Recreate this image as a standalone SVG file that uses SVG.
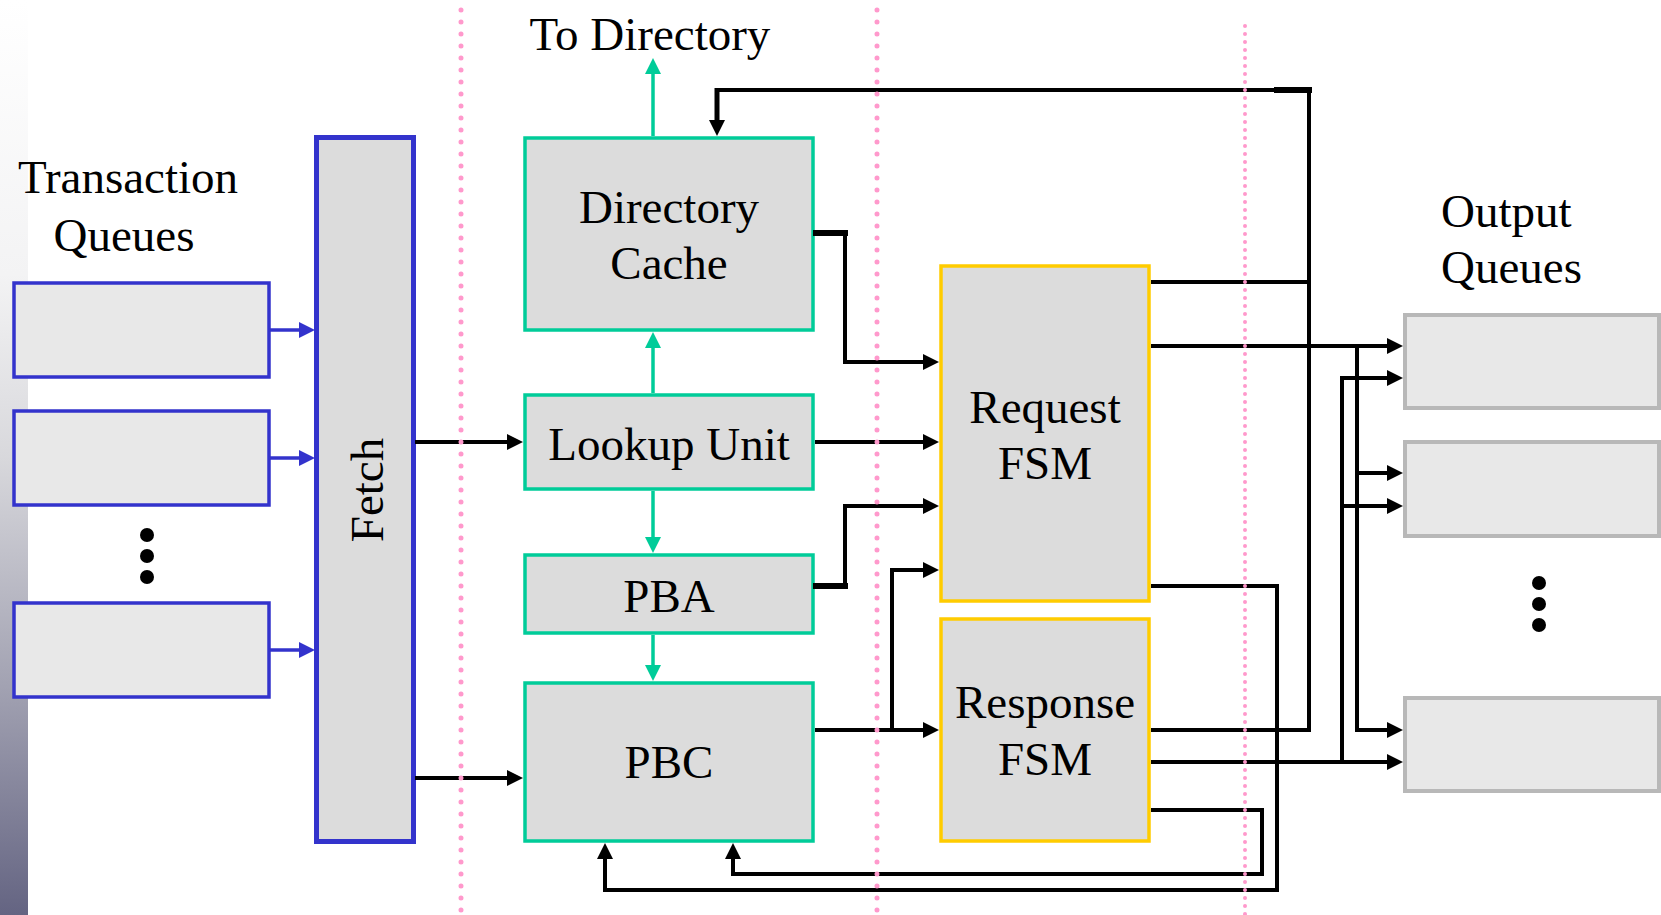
<svg xmlns="http://www.w3.org/2000/svg" width="1661" height="915" viewBox="0 0 1661 915">
  <defs>
    <linearGradient id="barGrad" x1="0" y1="0" x2="0" y2="1">
      <stop offset="0" stop-color="#ffffff"/>
      <stop offset="0.3" stop-color="#f3f3f4"/>
      <stop offset="0.5" stop-color="#d8d8dc"/>
      <stop offset="0.75" stop-color="#a2a2b2"/>
      <stop offset="1" stop-color="#646482"/>
    </linearGradient>
    <marker id="arrK" markerUnits="userSpaceOnUse" markerWidth="17" markerHeight="17" refX="11" refY="8" orient="auto">
      <path d="M0,0 L16,8 L0,16 z" fill="#000"/>
    </marker>
    <marker id="arrB" markerUnits="userSpaceOnUse" markerWidth="17" markerHeight="17" refX="11" refY="8" orient="auto">
      <path d="M0,0 L16,8 L0,16 z" fill="#3333cc"/>
    </marker>
    <marker id="arrG" markerUnits="userSpaceOnUse" markerWidth="17" markerHeight="17" refX="11" refY="8" orient="auto">
      <path d="M0,0 L16,8 L0,16 z" fill="#00cc99"/>
    </marker>
  </defs>
  <style>
    text { font-family: "Liberation Serif", "Times New Roman", serif; font-size: 47px; fill: #000; }
    .mid { text-anchor: middle; }
    .qbox { fill: #e8e8e8; stroke: #3333cc; stroke-width: 3.5; }
    .fetch { fill: #dcdcdc; stroke: #3333cc; stroke-width: 5; }
    .gbox { fill: #dcdcdc; stroke: #00cc99; stroke-width: 3.5; }
    .ybox { fill: #dcdcdc; stroke: #ffcc00; stroke-width: 3.5; }
    .obox { fill: #e8e8e8; stroke: #b8b8b8; stroke-width: 4; }
    .k { fill: none; stroke: #000; stroke-width: 4; }
    .kt { fill: none; stroke: #000; stroke-width: 6; }
    .b { fill: none; stroke: #3333cc; stroke-width: 3.5; }
    .g { fill: none; stroke: #00cc99; stroke-width: 3.5; }
    .pink1 { fill: none; stroke: #ff99cc; stroke-width: 5; stroke-dasharray: 0 12; stroke-linecap: round; }
    .pink2 { fill: none; stroke: #ff99cc; stroke-width: 4; stroke-dasharray: 0 8; stroke-linecap: round; }
  </style>

  <rect x="0" y="0" width="1661" height="915" fill="#ffffff"/>
  <rect x="0" y="0" width="28" height="915" fill="url(#barGrad)"/>

  <g id="label-transaction-queues">
    <text class="mid" x="128" y="193">Transaction</text>
    <text class="mid" x="124" y="251">Queues</text>
  </g>
  <g id="label-to-directory">
    <text class="mid" x="650" y="50">To Directory</text>
  </g>
  <g id="label-output-queues">
    <text x="1441" y="227">Output</text>
    <text x="1441" y="283">Queues</text>
  </g>

  <g id="tq1"><rect class="qbox" x="14" y="283" width="255" height="94"/></g>
  <g id="tq2"><rect class="qbox" x="14" y="411" width="255" height="94"/></g>
  <g id="tq-dots">
    <circle cx="147" cy="535" r="7" fill="#000"/>
    <circle cx="147" cy="556" r="7" fill="#000"/>
    <circle cx="147" cy="577" r="7" fill="#000"/>
  </g>
  <g id="tq3"><rect class="qbox" x="14" y="603" width="255" height="94"/></g>

  <g id="fetch">
    <rect class="fetch" x="316.5" y="137.5" width="97" height="704"/>
    <text class="mid" transform="translate(383,490) rotate(-90)">Fetch</text>
  </g>

  <g id="directory-cache">
    <rect class="gbox" x="525" y="138" width="288" height="192"/>
    <text class="mid" x="669" y="223">Directory</text>
    <text class="mid" x="669" y="279">Cache</text>
  </g>
  <g id="lookup-unit">
    <rect class="gbox" x="525" y="395" width="288" height="94"/>
    <text class="mid" x="669" y="460">Lookup Unit</text>
  </g>
  <g id="pba">
    <rect class="gbox" x="525" y="555" width="288" height="78"/>
    <text class="mid" x="669" y="612">PBA</text>
  </g>
  <g id="pbc">
    <rect class="gbox" x="525" y="683" width="288" height="158"/>
    <text class="mid" x="669" y="778">PBC</text>
  </g>

  <g id="request-fsm">
    <rect class="ybox" x="941" y="266" width="208" height="335"/>
    <text class="mid" x="1045" y="423">Request</text>
    <text class="mid" x="1045" y="479">FSM</text>
  </g>
  <g id="response-fsm">
    <rect class="ybox" x="941" y="619" width="208" height="222"/>
    <text class="mid" x="1045" y="718">Response</text>
    <text class="mid" x="1045" y="775">FSM</text>
  </g>

  <g id="oq1"><rect class="obox" x="1405" y="315" width="254" height="93"/></g>
  <g id="oq2"><rect class="obox" x="1405" y="442" width="254" height="94"/></g>
  <g id="oq-dots">
    <circle cx="1539" cy="583" r="7" fill="#000"/>
    <circle cx="1539" cy="604" r="7" fill="#000"/>
    <circle cx="1539" cy="625" r="7" fill="#000"/>
  </g>
  <g id="oq3"><rect class="obox" x="1405" y="698" width="254" height="93"/></g>

  <g id="connectors">
    <!-- transaction queues to fetch -->
    <path class="b" d="M269,330 H310" marker-end="url(#arrB)"/>
    <path class="b" d="M269,458 H310" marker-end="url(#arrB)"/>
    <path class="b" d="M269,650 H310" marker-end="url(#arrB)"/>

    <!-- green pipeline -->
    <path class="g" d="M653,136 V63" marker-end="url(#arrG)"/>
    <path class="g" d="M653,393 V337" marker-end="url(#arrG)"/>
    <path class="g" d="M653,491 V548" marker-end="url(#arrG)"/>
    <path class="g" d="M653,635 V676" marker-end="url(#arrG)"/>

    <!-- fetch outputs -->
    <path class="k" d="M415,442 H518" marker-end="url(#arrK)"/>
    <path class="k" d="M415,778 H518" marker-end="url(#arrK)"/>

    <!-- lookup to request FSM -->
    <path class="k" d="M815,442 H934" marker-end="url(#arrK)"/>

    <!-- directory cache to request FSM -->
    <path class="kt" d="M813,233 H848"/>
    <path class="k" d="M845,233 V362 H934" marker-end="url(#arrK)"/>

    <!-- PBA to request FSM -->
    <path class="kt" d="M813,586 H848"/>
    <path class="k" d="M845,586 V506 H934" marker-end="url(#arrK)"/>

    <!-- PBC to response FSM and request FSM -->
    <path class="k" d="M815,730 H934" marker-end="url(#arrK)"/>
    <path class="k" d="M892,732 V570 H934" marker-end="url(#arrK)"/>

    <!-- request/response FSM feedback to directory cache -->
    <path class="k" d="M1151,282 H1309"/>
    <path class="k" d="M1151,730 H1309 V90 H717 V131" marker-end="url(#arrK)"/>
    <path class="kt" d="M1274,90 H1312"/>
    <path class="k" style="stroke-width:5" d="M717,88 V124"/>

    <!-- request FSM to output queues -->
    <path class="k" d="M1151,346 H1398" marker-end="url(#arrK)"/>
    <path class="k" d="M1357,346 V730 H1398" marker-end="url(#arrK)"/>
    <path class="k" d="M1357,473 H1398" marker-end="url(#arrK)"/>

    <!-- response FSM to output queues -->
    <path class="k" d="M1151,762 H1398" marker-end="url(#arrK)"/>
    <path class="k" d="M1342,762 V378 H1398" marker-end="url(#arrK)"/>
    <path class="k" d="M1342,506 H1398" marker-end="url(#arrK)"/>

    <!-- FSMs back to PBC -->
    <path class="k" d="M1151,586 H1277 V890 H605 V848" marker-end="url(#arrK)"/>
    <path class="k" d="M1151,810 H1262 V874 H733 V848" marker-end="url(#arrK)"/>
  </g>

  <g id="stage-dividers">
    <line class="pink1" x1="461" y1="10" x2="461" y2="915"/>
    <line class="pink1" x1="877" y1="10" x2="877" y2="915"/>
    <line class="pink2" x1="1245" y1="26" x2="1245" y2="915"/>
  </g>
</svg>
